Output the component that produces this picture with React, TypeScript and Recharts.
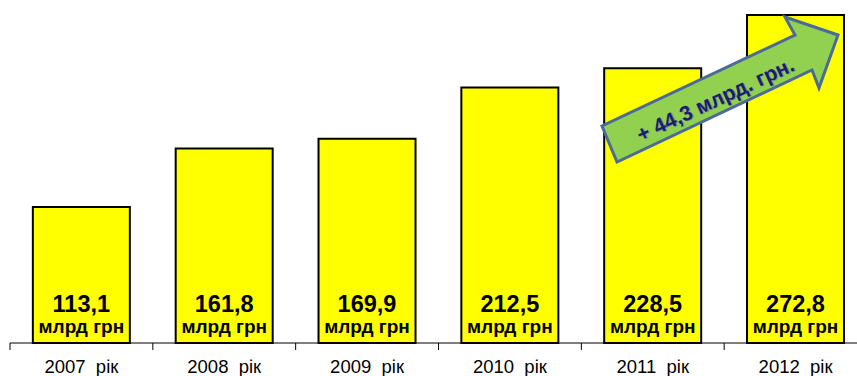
import { Bar, BarChart, XAxis, YAxis, LabelList } from 'recharts';

const years = ['2007 рік', '2008 рік', '2009 рік', '2010 рік', '2011 рік', '2012 рік'];
const values = [113.1, 161.8, 169.9, 212.5, 228.5, 272.8];
const valueLabels = ['113,1', '161,8', '169,9', '212,5', '228,5', '272,8'];
const unitLabel = 'млрд грн';
const growthLabel = '+ 44,3 млрд. грн.';

const data = years.map((year, i) => ({ year, value: values[i], label: valueLabels[i] }));

const W = 867;
const H = 376;
const LEFT = 10;
const AXIS_Y = 343;
const BAND = (W - LEFT) / years.length;
const FONT = '"Liberation Sans", Arial, sans-serif';

const YearTick = (props: any) => {
  const { x, payload, index } = props;
  const left = x - BAND / 2;
  return (
    <g>
      <line x1={left} y1={AXIS_Y} x2={left} y2={AXIS_Y + 7} stroke="#000" strokeWidth={1} />
      {index === years.length - 1 && (
        <line x1={left + BAND} y1={AXIS_Y} x2={left + BAND} y2={AXIS_Y + 7} stroke="#000" />
      )}
      <text x={x} y={373} textAnchor="middle" fontFamily={FONT} fontSize={18.5} fill="#000" style={{ whiteSpace: 'pre' }}>
        {payload.value.replace(' ', '  ')}
      </text>
    </g>
  );
};

const ValueLabel = (props: any) => {
  const { x, y, width, height, index } = props;
  const cx = x + width / 2;
  const bottom = y + height;
  return (
    <g fontFamily={FONT} fontWeight="bold" fill="#000" textAnchor="middle">
      <text x={cx} y={bottom - 31} fontSize={23.5}>{valueLabels[index]}</text>
      <text x={cx} y={bottom - 10} fontSize={19}>{unitLabel}</text>
    </g>
  );
};

function GrowthArrow() {
  const pts = '602,126 617,162 812,70 819,88 838,35 785,17 795,35';
  return (
    <svg width={857} height={376} style={{ position: 'absolute', left: 0, top: 0, pointerEvents: 'none' }}>
      <polygon points={pts} fill="#92D050" stroke="#4A6A9A" strokeWidth={3} strokeLinejoin="miter" />
      <g transform="translate(716,101) rotate(-25)">
        <text x={1} y={1} textAnchor="middle" dominantBaseline="middle" fontFamily={FONT} fontWeight="bold" fontSize={21} fill="#6f7f9f" opacity={0.6}>
          {growthLabel}
        </text>
        <text x={0} y={0} textAnchor="middle" dominantBaseline="middle" fontFamily={FONT} fontWeight="bold" fontSize={21} fill="#1C1C70">
          {growthLabel}
        </text>
      </g>
    </svg>
  );
}

export default function App() {
  return (
    <div style={{ position: 'absolute', left: 0, top: 0, width: 857, height: H, overflow: 'hidden', background: '#fff' }}>
      <BarChart width={W} height={H} data={data} margin={{ top: 0, right: 0, bottom: 0, left: LEFT }} barCategoryGap="16%">
        <YAxis hide domain={[0, 285.3]} />
        <XAxis
          dataKey="year"
          interval={0}
          tickLine={false}
          axisLine={{ stroke: '#000', strokeWidth: 1 }}
          height={H - AXIS_Y}
          tick={<YearTick />}
        />
        <Bar dataKey="value" fill="#FFFF00" stroke="#000" strokeWidth={2} isAnimationActive={false}>
          <LabelList dataKey="label" content={<ValueLabel />} />
        </Bar>
      </BarChart>
      <GrowthArrow />
    </div>
  );
}
